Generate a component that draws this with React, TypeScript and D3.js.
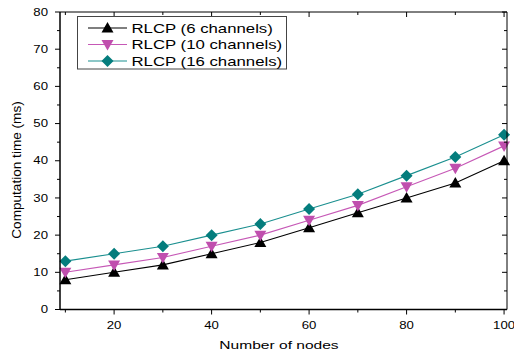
import React from "react";
import * as d3 from "d3";

const nodes = [10, 20, 30, 40, 50, 60, 70, 80, 90, 100];
const rlcp6 = [8, 10, 12, 15, 18, 22, 26, 30, 34, 40];
const rlcp10 = [10, 12, 14, 17, 20, 24, 28, 33, 38, 44];
const rlcp16 = [13, 15, 17, 20, 23, 27, 31, 36, 41, 47];
const seriesNames = ["RLCP (6 channels)", "RLCP (10 channels)", "RLCP (16 channels)"];
const xTicks = [20, 40, 60, 80, 100];
const xMinor = [10, 30, 50, 70, 90];
const yTicks = [0, 10, 20, 30, 40, 50, 60, 70, 80];
const yMinor = [5, 15, 25, 35, 45, 55, 65, 75];

const W = 514, H = 355;
const L = 60, R = 507, T = 12, B = 309.5;
const FONT = "Arial, 'Liberation Sans', Helvetica, sans-serif";
const SX = 1.32;

const x = d3.scaleLinear().domain([8.9, 100.6]).range([L, R]);
const y = d3.scaleLinear().domain([0, 80]).range([B, T]);

const series = [
  { name: seriesNames[0], values: rlcp6, color: "#000000", line: "#000000", shape: "up" },
  { name: seriesNames[1], values: rlcp10, color: "#c04fae", line: "#c658b6", shape: "down" },
  { name: seriesNames[2], values: rlcp16, color: "#047d7d", line: "#1a8f8f", shape: "diamond" },
];

function Marker({ shape, cx, cy, color }: { shape: string; cx: number; cy: number; color: string }) {
  let d = "";
  if (shape === "up") d = `M${cx},${cy - 6}L${cx + 6},${cy + 4.5}L${cx - 6},${cy + 4.5}Z`;
  else if (shape === "down") d = `M${cx},${cy + 6}L${cx + 6},${cy - 4.5}L${cx - 6},${cy - 4.5}Z`;
  else d = `M${cx},${cy - 6}L${cx + 6},${cy}L${cx},${cy + 6}L${cx - 6},${cy}Z`;
  return <path d={d} fill={color} />;
}

function SText({ x0, y0, size, anchor, children, sx = SX }: any) {
  return (
    <text
      transform={`translate(${x0},${y0}) scale(${sx},1)`}
      fontSize={size}
      fontFamily={FONT}
      textAnchor={anchor}
      fill="#000"
    >
      {children}
    </text>
  );
}

export default function App() {
  const line = d3
    .line<number>()
    .x((_, i) => x(nodes[i]))
    .y((v) => y(v));
  return (
    <svg width={W} height={H} style={{ position: "absolute", left: 0, top: 0, background: "#fff" }}>
      <rect x={0} y={0} width={W} height={H} fill="#fff" />
      {series.map((s) => (
        <g key={s.name}>
          <path d={line(s.values) || ""} fill="none" stroke={s.line} strokeWidth={1.1} />
          {s.values.map((v, i) => (
            <Marker key={i} shape={s.shape} cx={x(nodes[i])} cy={y(v)} color={s.color} />
          ))}
        </g>
      ))}
      <line x1={L} x2={R} y1={T} y2={T} stroke="#000" strokeWidth={1} />
      <line x1={R} x2={R} y1={T} y2={B} stroke="#000" strokeWidth={1} />
      <line x1={L} x2={L} y1={T} y2={B} stroke="#000" strokeWidth={1.5} />
      <line x1={L} x2={R} y1={B} y2={B} stroke="#000" strokeWidth={1.5} />
      {yTicks.map((t) => (
        <g key={"y" + t}>
          <line x1={L - 5} x2={L} y1={y(t)} y2={y(t)} stroke="#000" strokeWidth={1} />
          <line x1={R - 5} x2={R} y1={y(t)} y2={y(t)} stroke="#000" strokeWidth={1} />
          <SText x0={48} y0={y(t) + 3.6} size={10} anchor="end">{t}</SText>
        </g>
      ))}
      {yMinor.map((t) => (
        <g key={"ym" + t}>
          <line x1={L - 3} x2={L} y1={y(t)} y2={y(t)} stroke="#000" strokeWidth={1} />
          <line x1={R - 3} x2={R} y1={y(t)} y2={y(t)} stroke="#000" strokeWidth={1} />
        </g>
      ))}
      {xTicks.map((t) => (
        <g key={"x" + t}>
          <line x1={x(t)} x2={x(t)} y1={B} y2={B + 5} stroke="#000" strokeWidth={1} />
          <line x1={x(t)} x2={x(t)} y1={T} y2={T + 5} stroke="#000" strokeWidth={1} />
          <SText x0={x(t)} y0={328.5} size={10} anchor="middle">{t}</SText>
        </g>
      ))}
      {xMinor.map((t) => (
        <g key={"xm" + t}>
          <line x1={x(t)} x2={x(t)} y1={B} y2={B + 3} stroke="#000" strokeWidth={1} />
          <line x1={x(t)} x2={x(t)} y1={T} y2={T + 3} stroke="#000" strokeWidth={1} />
        </g>
      ))}
      <SText x0={279} y0={348.5} size={11.8} anchor="middle">Number of nodes</SText>
      <text
        transform={`translate(20.5,170) rotate(-90)`}
        fontSize={13.6}
        fontFamily={FONT}
        textAnchor="middle"
        fill="#000"
      >
        Computation time (ms)
      </text>
      <rect x={77.5} y={16.5} width={209} height={52.5} fill="#fff" stroke="#444" strokeWidth={1} />
      {series.map((s, i) => {
        const ly = 28 + i * 16.5;
        return (
          <g key={"lg" + i}>
            <line x1={88} x2={127} y1={ly} y2={ly} stroke={s.line} strokeWidth={1.1} />
            <Marker shape={s.shape} cx={107.5} cy={ly} color={s.color} />
            <SText x0={131.5} y0={ly + 4.7} size={13} anchor="start" sx={1.29}>{s.name}</SText>
          </g>
        );
      })}
    </svg>
  );
}
